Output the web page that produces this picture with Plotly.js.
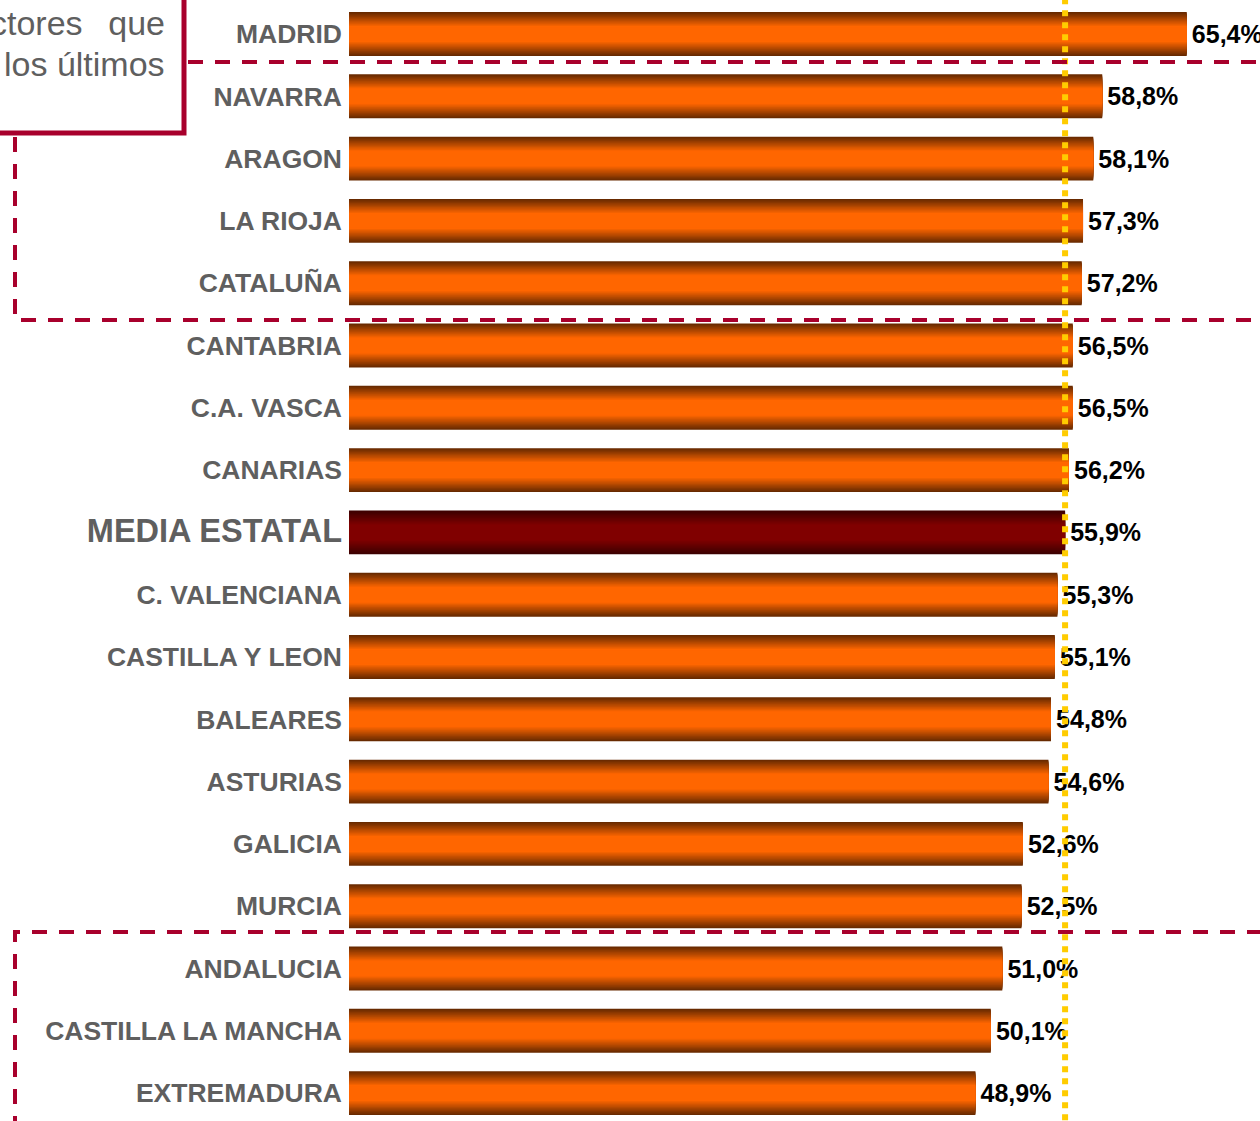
<!DOCTYPE html>
<html><head><meta charset="utf-8">
<script src="https://cdn.plot.ly/plotly-3.0.1.min.js"></script>
<style>html,body{margin:0;padding:0;background:#fff;overflow:hidden}</style>
</head><body><div id="chart" style="width:1260px;height:1121px"></div>
<script>
// ---- data ----
const regions = ['MADRID','NAVARRA','ARAGON','LA RIOJA','CATALUÑA','CANTABRIA','C.A. VASCA','CANARIAS','MEDIA ESTATAL','C. VALENCIANA','CASTILLA Y LEON','BALEARES','ASTURIAS','GALICIA','MURCIA','ANDALUCIA','CASTILLA LA MANCHA','EXTREMADURA'];
const values = [65.4,58.8,58.1,57.3,57.2,56.5,56.5,56.2,55.9,55.3,55.1,54.8,54.6,52.6,52.5,51.0,50.1,48.9];
const averageLabel = 'MEDIA ESTATAL';
const boxTextLines = ['ctores\u00a0\u00a0\u2009que', 'los últimos'];

// ---- styling ----
const W = 1260, H = 1121, L = 349, T = 0, B = 0, R = 0;
const PW = W - L - R, PH = H - T - B;
const px = x => (x - L) / PW;
const py = y => 1 - (y - T) / PH;
const crimson = '#a8002c';
const labelGray = '#5f5f5f';
const rowPitch = 62.3, firstCenter = 34;

const isAvg = regions.map(r => r === averageLabel);
const avgValue = values[regions.indexOf(averageLabel)];

function lerp(a, b, t) { return a.map((v, i) => Math.round(v + (b[i] - v) * t)); }
const rgb = c => `rgb(${c[0]},${c[1]},${c[2]})`;
const orangeEdge = [104, 42, 0], orangeCenter = [255, 102, 0];
const redEdge = [60, 0, 0], redCenter = [128, 0, 0];

const N = 14, wMax = 0.705, wMin = 0.22;
const traces = [];
for (let k = 0; k < N; k++) {
  const t = k / (N - 1);
  const w = wMax - (wMax - wMin) * t;
  const ct = Math.min(1, t * 1.08);
  traces.push({
    type: 'bar', orientation: 'h',
    x: values, y: regions,
    width: w,
    marker: { color: isAvg.map(a => rgb(a ? lerp(redEdge, redCenter, ct) : lerp(orangeEdge, orangeCenter, ct))), line: { width: 0 } },
    hoverinfo: k === 0 ? 'x+y' : 'skip',
    showlegend: false,
    ...(k === 0 ? {
      texttemplate: '\u200a%{x:.1f}%',
      textposition: 'outside',
      constraintext: 'none',
      cliponaxis: false,
      textfont: { family: 'Liberation Sans, Arial, sans-serif', size: 25, color: '#000', weight: 'bold' }
    } : { textposition: 'none' })
  });
}

const ticktext = regions.map(r => r === averageLabel ? `<span style="font-size:32.5px">${r}</span>` : r);

const topEdge = -firstCenter / rowPitch;
const yRange = [topEdge + PH / rowPitch, topEdge];

const dash = '15px,12px';
const shapes = [
  // yellow average line
  { type: 'line', xref: 'x', yref: 'paper', x0: avgValue, x1: avgValue, y0: -0.01, y1: 1.01,
    line: { color: '#ffcc00', width: 6, dash: 'dot' }, layer: 'above' },
  // top dashed separator
  { type: 'line', xref: 'paper', yref: 'paper', x0: px(188), x1: px(1262), y0: py(62), y1: py(62),
    line: { color: crimson, width: 4, dash: dash }, layer: 'above' },
  // upper bracket
  { type: 'path', xref: 'paper', yref: 'paper',
    path: `M ${px(15)} ${py(137)} L ${px(15)} ${py(320)} L ${px(1262)} ${py(320)}`,
    line: { color: crimson, width: 4, dash: dash }, layer: 'above' },
  // lower bracket
  { type: 'path', xref: 'paper', yref: 'paper',
    path: `M ${px(1262)} ${py(932)} L ${px(15)} ${py(932)} L ${px(15)} ${py(1125)}`,
    line: { color: crimson, width: 4, dash: dash }, layer: 'above' },
  // text box
  { type: 'rect', xref: 'paper', yref: 'paper', x0: px(-20), x1: px(184), y0: py(-20), y1: py(133),
    line: { color: crimson, width: 5 }, fillcolor: '#ffffff', layer: 'above' }
];

const boxFont = { family: 'Liberation Sans, Arial, sans-serif', size: 34, color: labelGray };
const annotations = [
  { xref: 'paper', yref: 'paper', x: px(167), y: py(23), xanchor: 'right', yanchor: 'middle',
    align: 'right', showarrow: false, text: boxTextLines[0], font: boxFont },
  { xref: 'paper', yref: 'paper', x: px(167), y: py(64), xanchor: 'right', yanchor: 'middle',
    align: 'right', showarrow: false, text: boxTextLines[1], font: boxFont }
];

const layout = {
  width: W, height: H,
  margin: { l: L, r: R, t: T, b: B, pad: 0 },
  paper_bgcolor: '#ffffff', plot_bgcolor: '#ffffff',
  barmode: 'overlay',
  separators: ',.',
  showlegend: false,
  xaxis: { range: [0, PW / 12.81], visible: false, fixedrange: true },
  yaxis: {
    type: 'category', range: yRange,
    tickmode: 'array', tickvals: regions, ticktext: ticktext,
    showline: false, showgrid: false, zeroline: false, ticks: '',
    ticklabelstandoff: 6,
    tickfont: { family: 'Liberation Sans, Arial, sans-serif', size: 26.5, color: labelGray, weight: 'bold' },
    fixedrange: true
  },
  shapes: shapes,
  annotations: annotations
};

Plotly.newPlot('chart', traces, layout, { displayModeBar: false, staticPlot: true });
</script>
</body></html>
